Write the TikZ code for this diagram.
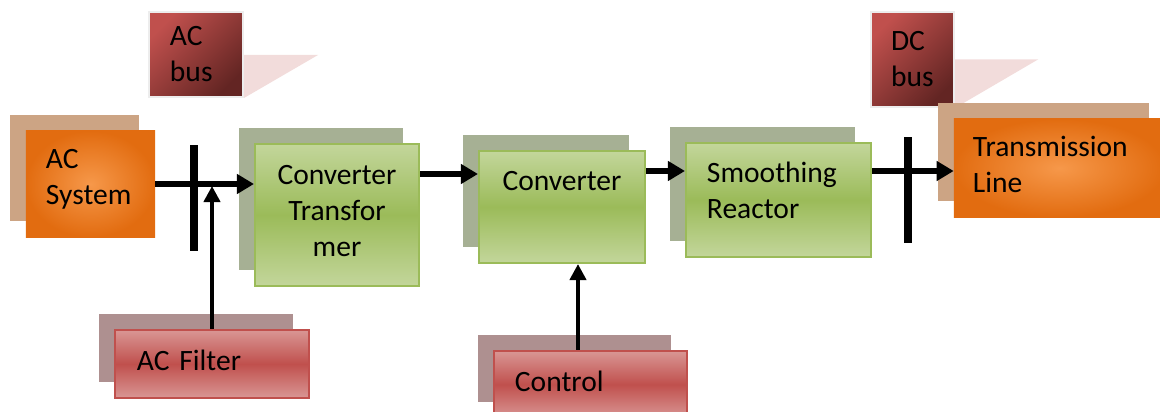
\documentclass[tikz,border=0pt]{standalone}
\usepackage{fontspec}
\setmainfont{Carlito}
\usepackage{tikz}
\usetikzlibrary{arrows.meta,shadows}
\definecolor{orangeedge}{RGB}{226,108,16}
\definecolor{orangemid}{RGB}{246,152,74}
\definecolor{orangeshade}{RGB}{204,164,132}
\definecolor{greenlight}{RGB}{195,214,155}
\definecolor{greendark}{RGB}{155,187,89}
\definecolor{greenshade}{RGB}{166,176,148}
\definecolor{redlight}{RGB}{217,150,148}
\definecolor{redmid}{RGB}{192,80,77}
\definecolor{redshade}{RGB}{174,144,144}
\definecolor{busdark}{RGB}{99,37,35}
\definecolor{calloutpink}{RGB}{242,220,219}

\begin{document}
\begin{tikzpicture}[
  x=0.025cm, y=-0.025cm,
  block/.style={
    rectangle,
    inner sep=0pt,
    font=\fontsize{21}{25.6}\selectfont
  },
  source/.style={
    block,align=left,
    inner color=orangemid,outer color=orangeedge,
    general shadow={fill=orangeshade,shadow xshift=-.4cm,shadow yshift=.4cm}
  },
  stage/.style={
    block,draw=greendark,line width=.05cm,
    top color=greenlight,bottom color=greenlight,middle color=greendark,
    general shadow={fill=greenshade,shadow xshift=-.4cm,shadow yshift=.4cm}
  },
  aux/.style={
    block,align=left,draw=redmid,line width=.05cm,
    top color=redlight,bottom color=redlight,middle color=redmid,
    general shadow={fill=redshade,shadow xshift=-.4cm,shadow yshift=.4cm}
  },
  bus/.style={
    block,align=left,draw=black!7,line width=.05cm,
    top color=redmid,bottom color=busdark,shading angle=45
  },
  pointer/.style={fill=calloutpink},
  bar/.style={fill=black,minimum width=.2cm,inner sep=0pt},
  flow/.style={line width=.15cm,-{Triangle[length=.425cm,width=.475cm]}},
  feed/.style={line width=.1cm,-{Triangle[length=.4cm,width=.4cm]}}
]
\useasboundingbox (0,0) rectangle (1160,412);

% bus labels with their pointers
\node[bus,minimum width=2.35cm,minimum height=2.125cm,text width=1.3cm]
  (acbus) at (196,54.5) {AC\\bus};
\fill[pointer] (acbus.east |- 0,55) -- ++(74,0) -- (acbus.south east) -- cycle;
\node[bus,minimum width=2.075cm,minimum height=2.375cm,text width=1.075cm]
  (dcbus) at (912.5,59.5) {DC\\bus};
\fill[pointer] (dcbus.east) -- ++(83,0) -- (dcbus.south east) -- cycle;

% main chain
\node[source,minimum width=3.225cm,minimum height=2.65cm,text width=2.225cm,
  text depth=1.26cm] (acsys) at (90.5,184) {AC\\System};
\node[stage,minimum width=4.1cm,minimum height=3.55cm,align=center,
  text depth=.2cm] (ct) at (337,215) {Converter\\Transfor\\mer};
\node[stage,minimum width=4.15cm,minimum height=2.8cm,text depth=1.28cm]
  (conv) at (562,207) {Converter};
\node[stage,minimum width=4.625cm,minimum height=2.85cm,align=left,
  text width=3.575cm,text depth=1.4cm] (smr) at (778.5,200) {Smoothing\\Reactor};
\node[source,minimum width=5.275cm,minimum height=2.45cm,text width=4.325cm,
  text depth=1.1cm] (tl) at (1059.5,168) {Transmission\\Line};

% filter and control
\node[aux,minimum width=4.85cm,minimum height=1.7cm,text width=3.75cm,
  text depth=.2cm] (acf) at (212,364) {AC Filter};
\node[aux,minimum width=4.825cm,minimum height=1.675cm,text width=3.775cm,
  text depth=.15cm] (ctrl) at (590.5,384.5) {Control};

% bus bars
\node[bar,minimum height=2.65cm] (acbar) at (194,198) {};
\node[bar,minimum height=2.65cm] (dcbar) at (908,190) {};

% connectors
\coordinate (acjoin) at (acsys.east -| acf.north);
\draw[flow] (acsys.east) -- (acsys.east -| ct.west);
\draw[flow] (ct.east |- 0,174) -- (conv.west |- 0,174);
\draw[flow] (conv.east |- 0,171) -- (smr.west |- 0,171);
\draw[flow] (smr.east |- 0,171) -- (tl.west |- 0,171);
\draw[feed] (acf.north) -- ([yshift=-.05cm]acjoin);
\draw[feed] ([xshift=-.3125cm]ctrl.north) -- ([xshift=-.3125cm]ctrl.north |- conv.south);
\end{tikzpicture}
\end{document}
